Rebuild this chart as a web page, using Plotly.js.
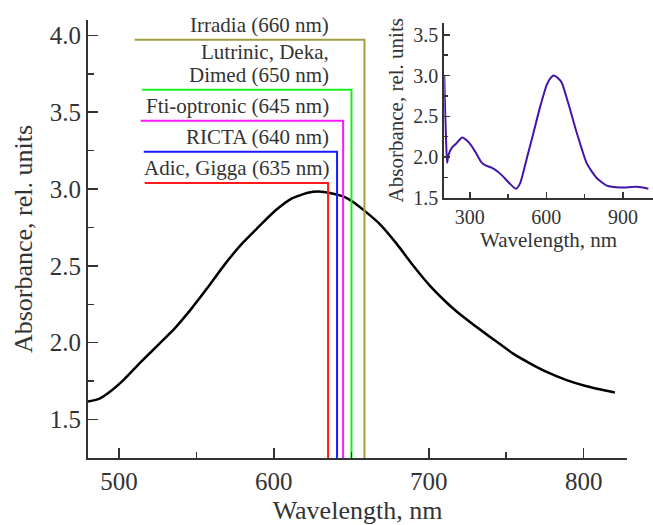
<!DOCTYPE html>
<html>
<head>
<meta charset="utf-8">
<script src="https://cdn.plot.ly/plotly-3.0.1.min.js"></script>
<style>html,body{margin:0;padding:0;background:#fff}#chart{width:653px;height:525px}</style>
</head>
<body>
<div id="chart"></div>
<script>
// Main spectrum (zoomed range)
const mainWl  = [480, 487.5, 495, 503.7, 514.5, 525.2, 536, 546.8, 557.5, 568.3, 579, 589.8, 600.6, 611.4, 622, 628.6, 637, 645.8, 652.3, 659.8, 668.4, 679.2, 689.9, 700.7, 711.5, 718, 728.7, 741.6, 754.5, 765.3, 776.1, 789, 801.9, 820.2];
const mainAbs = [1.617, 1.637, 1.688, 1.765, 1.878, 1.985, 2.094, 2.222, 2.362, 2.51, 2.64, 2.75, 2.857, 2.938, 2.976, 2.984, 2.973, 2.948, 2.908, 2.848, 2.772, 2.645, 2.503, 2.372, 2.262, 2.203, 2.119, 2.023, 1.929, 1.866, 1.81, 1.757, 1.717, 1.676];

// Inset: full spectrum
const insetWl  = [200, 203, 207, 211, 216, 228, 248, 270, 290, 306, 326, 346, 360, 385, 410, 431, 455, 481, 497, 523, 549, 575, 602, 618, 630, 645, 660, 686, 720, 759, 798, 837, 890, 955, 1000];
const insetAbs = [3.0, 2.6, 2.2, 1.93, 2.02, 2.107, 2.17, 2.24, 2.2, 2.14, 2.04, 1.935, 1.9, 1.87, 1.82, 1.76, 1.68, 1.612, 1.677, 1.98, 2.29, 2.61, 2.89, 2.975, 3.0, 2.97, 2.915, 2.66, 2.29, 1.92, 1.74, 1.65, 1.627, 1.635, 1.612];

// Laser devices
const deviceLabels = ['Adic, Gigga (635 nm)', 'RICTA (640 nm)', 'Fti-optronic (645 nm)', 'Lutrinic, Deka,<br>Dimed (650 nm)', 'Irradia (660 nm)'];
const deviceWl     = [635, 640.8, 644.7, 650.1, 658.5];
const deviceLevel  = [3.039, 3.243, 3.445, 3.646, 3.972];
const deviceStart  = [516.6, 516, 514, 514.9, 510.1];
const deviceColors = ['#ff1a1a', '#1a1aff', '#ff1aff', '#1aee1a', '#a09c40'];

const yMin = 1.25, yMax = 4.1;
const font = 'Liberation Serif, Times New Roman, serif';
const txt = '#333333';

const traces = [{
  x: mainWl, y: mainAbs, type: 'scatter', mode: 'lines',
  line: {color: '#000', width: 2.5, shape: 'spline', smoothing: 0.5},
  xaxis: 'x', yaxis: 'y', hoverinfo: 'skip'
}];
deviceWl.forEach((wl, i) => {
  traces.push({
    x: [deviceStart[i], wl, wl], y: [deviceLevel[i], deviceLevel[i], yMin],
    type: 'scatter', mode: 'lines',
    line: {color: deviceColors[i], width: 2},
    xaxis: 'x', yaxis: 'y', hoverinfo: 'skip'
  });
});
traces.push({
  x: insetWl, y: insetAbs, type: 'scatter', mode: 'lines',
  line: {color: '#4214a8', width: 2, shape: 'spline', smoothing: 0.6},
  xaxis: 'x2', yaxis: 'y2', hoverinfo: 'skip'
});

const annotations = [];
deviceLabels.forEach((t, i) => {
  const lines = t.split('<br>');
  lines.forEach((ln, j) => {
    annotations.push({
      x: 636, y: deviceLevel[i], xref: 'x', yref: 'y',
      text: ln, showarrow: false, xanchor: 'right', yanchor: 'bottom', align: 'right',
      borderpad: 0,
      yshift: 2 + (lines.length - 1 - j) * 23,
      font: {family: font, size: 21, color: txt}
    });
  });
});

function axisBase(extra) {
  return Object.assign({
    showline: true, linecolor: '#333', linewidth: 2, mirror: false,
    ticks: 'inside', tickcolor: '#333', tickwidth: 1.5,
    showgrid: false, zeroline: false, fixedrange: true
  }, extra);
}

const layout = {
  width: 653, height: 525,
  margin: {l: 88, r: 0, t: 20, b: 67},
  paper_bgcolor: '#fff', plot_bgcolor: 'rgba(0,0,0,0)',
  showlegend: false,
  font: {family: font, color: txt},
  xaxis: axisBase({
    domain: [0, 539/565], range: [480, 828], dtick: 100, tick0: 0, ticklen: 10,
    minor: {ticks: 'inside', ticklen: 6, dtick: 50, tick0: 0, tickcolor: '#333', tickwidth: 1.5},
    tickfont: {family: font, size: 25, color: txt},
    title: {text: 'Wavelength, nm', font: {family: font, size: 26, color: txt}, standoff: 8},
    anchor: 'y'
  }),
  yaxis: axisBase({
    domain: [0, 1], range: [yMin, yMax], dtick: 0.5, tick0: 0, ticklen: 10, tickformat: '.1f',
    minor: {ticks: 'inside', ticklen: 6, dtick: 0.25, tick0: 0, tickcolor: '#333', tickwidth: 1.5},
    tickfont: {family: font, size: 25, color: txt},
    title: {text: 'Absorbance, rel. units', font: {family: font, size: 26, color: txt}, standoff: 10},
    anchor: 'x'
  }),
  xaxis2: axisBase({
    domain: [0.6306, 1], range: [200, 1018], dtick: 300, tick0: 0, ticklen: 6,
    minor: {ticks: 'inside', ticklen: 4, dtick: 150, tick0: 0, tickcolor: '#333', tickwidth: 1.5},
    tickfont: {family: font, size: 20, color: txt},
    title: {text: 'Wavelength, nm', font: {family: font, size: 21, color: txt}, standoff: 4},
    anchor: 'y2'
  }),
  yaxis2: axisBase({
    domain: [0.594, 0.994], range: [1.5, 3.65], dtick: 0.5, tick0: 0, ticklen: 6, tickformat: '.1f',
    minor: {ticks: 'inside', ticklen: 4, dtick: 0.25, tick0: 0, tickcolor: '#333', tickwidth: 1.5},
    tickfont: {family: font, size: 20, color: txt},
    title: {text: 'Absorbance, rel. units', font: {family: font, size: 21, color: txt}, standoff: 4},
    anchor: 'x2'
  }),
  annotations: annotations
};

Plotly.newPlot('chart', traces, layout, {staticPlot: true, displayModeBar: false});
</script>
</body>
</html>
